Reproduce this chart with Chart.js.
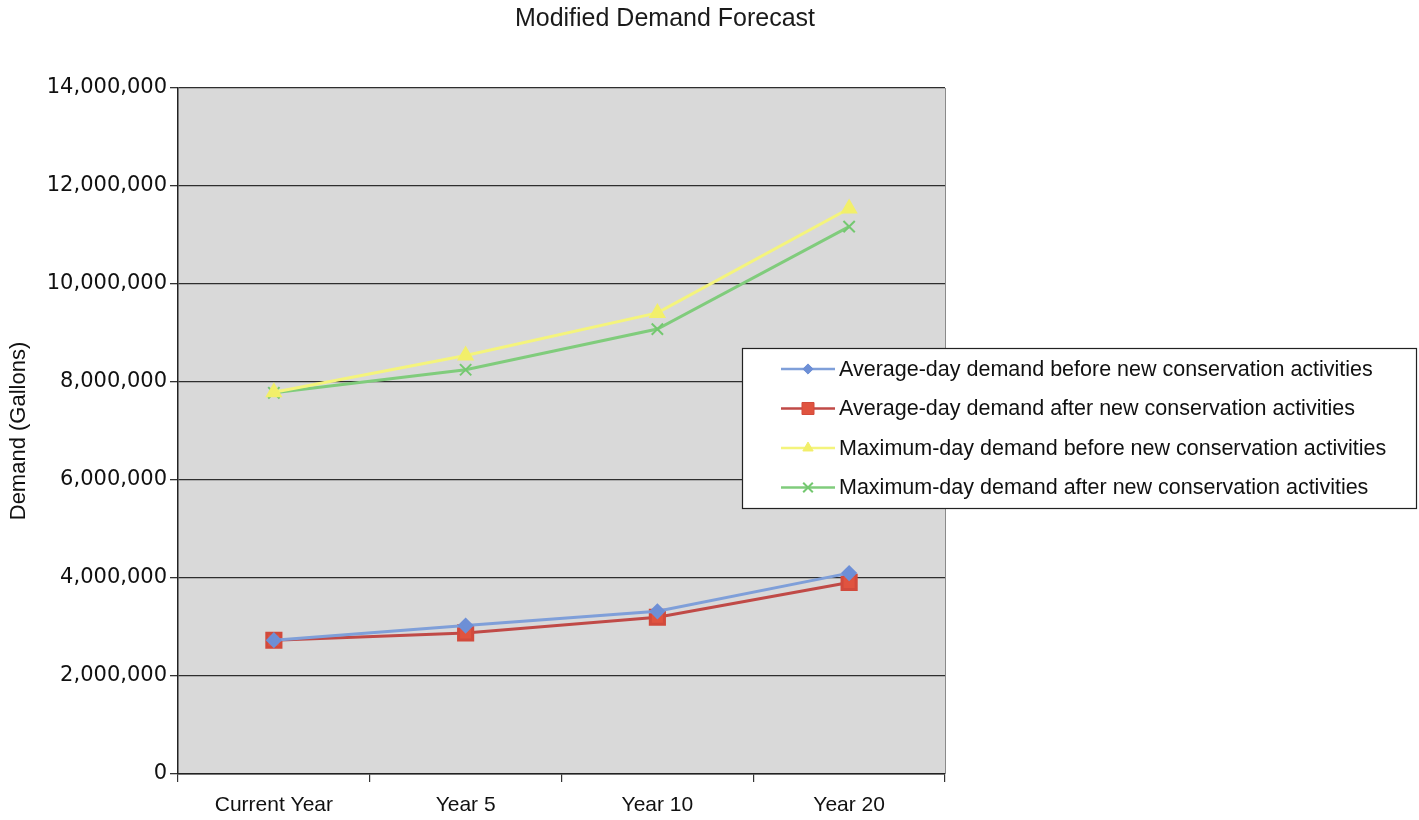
<!DOCTYPE html>
<html>
<head>
<meta charset="utf-8">
<script src="https://cdn.jsdelivr.net/npm/chart.js@4/dist/chart.umd.min.js"></script>
<style>
  html, body { margin: 0; padding: 0; background: #fff; }
  #wrap { position: relative; width: 1419px; height: 820px; }
</style>
</head>
<body>
<div id="wrap"><canvas id="chart" width="1419" height="820"></canvas></div>
<script>
const TITLE = "Modified Demand Forecast";
const Y_TITLE = "Demand (Gallons)";
const CATEGORIES = ["Current Year", "Year 5", "Year 10", "Year 20"];

const AVG_BEFORE = [2730000, 3030000, 3320000, 4100000];
const AVG_AFTER = [2730000, 2880000, 3200000, 3910000];
const MAX_BEFORE = [7790000, 8540000, 9410000, 11540000];
const MAX_AFTER = [7780000, 8250000, 9080000, 11170000];

const SERIES_LABELS = [
  "Average-day demand before new conservation activities",
  "Average-day demand after new conservation activities",
  "Maximum-day demand before new conservation activities",
  "Maximum-day demand after new conservation activities"
];

const FONT = "'Liberation Sans', Arial, sans-serif";

// plot background, right border, title and the legend box over the plot
const decor = {
  id: "decor",
  beforeDraw(chart) {
    const { ctx, chartArea: a } = chart;
    ctx.save();
    ctx.fillStyle = "#d9d9d9";
    ctx.fillRect(a.left, a.top, a.right - a.left, a.bottom - a.top);
    ctx.restore();
  },
  afterDraw(chart) {
    const { ctx, chartArea: a } = chart;
    ctx.save();
    ctx.strokeStyle = "#8a8a8a";
    ctx.lineWidth = 1;
    ctx.beginPath();
    ctx.moveTo(a.right + 0.5, a.top);
    ctx.lineTo(a.right + 0.5, a.bottom);
    ctx.stroke();

    ctx.fillStyle = "#1a1a1a";
    ctx.font = "25px " + FONT;
    ctx.textAlign = "center";
    ctx.textBaseline = "middle";
    ctx.fillText(TITLE, 665, 19);

    // legend
    const bx = 742, by = 348, bw = 674, bh = 160;
    ctx.fillStyle = "#ffffff";
    ctx.fillRect(bx, by, bw, bh);
    ctx.strokeStyle = "#222";
    ctx.lineWidth = 1.2;
    ctx.strokeRect(bx + 0.5, by + 0.5, bw, bh);
    ctx.font = "21.5px " + FONT;
    ctx.textAlign = "left";
    chart.data.datasets.forEach((ds, i) => {
      const y = by + 21 + i * 39.5;
      ctx.strokeStyle = ds.borderColor;
      ctx.lineWidth = 2.5;
      ctx.beginPath();
      ctx.moveTo(781, y);
      ctx.lineTo(835, y);
      ctx.stroke();
      ctx.fillStyle = ds.pointBackgroundColor;
      ctx.strokeStyle = ds.pointBorderColor;
      ctx.lineWidth = ds.pointBorderWidth || 1;
      Chart.helpers.drawPoint(ctx, {
        pointStyle: ds.pointStyle,
        radius: ds.pointRadius * 0.85,
        borderWidth: ds.pointBorderWidth || 1,
        rotation: 0
      }, 808, y);
      ctx.fillStyle = "#111";
      ctx.fillText(ds.label, 839, y + 1);
    });
    ctx.restore();
  }
};

new Chart(document.getElementById("chart"), {
  type: "line",
  data: {
    labels: CATEGORIES,
    datasets: [
      {
        label: SERIES_LABELS[0],
        data: AVG_BEFORE,
        borderColor: "#7f9fd9",
        borderWidth: 3,
        pointStyle: "rectRot",
        pointRadius: 6,
        pointBackgroundColor: "#6d8fd6",
        pointBorderColor: "#6d8fd6"
      },
      {
        label: SERIES_LABELS[1],
        data: AVG_AFTER,
        borderColor: "#c04a47",
        borderWidth: 3,
        pointStyle: "rect",
        pointRadius: 10,
        pointBackgroundColor: "#e0533f",
        pointBorderColor: "#d24a3c"
      },
      {
        label: SERIES_LABELS[2],
        data: MAX_BEFORE,
        borderColor: "#f4f47c",
        borderWidth: 3,
        pointStyle: "triangle",
        pointRadius: 7,
        pointBackgroundColor: "#f2ef6a",
        pointBorderColor: "#f2ef6a"
      },
      {
        label: SERIES_LABELS[3],
        data: MAX_AFTER,
        borderColor: "#80cc7c",
        borderWidth: 3,
        pointStyle: "crossRot",
        pointRadius: 8,
        pointBorderWidth: 2,
        pointBackgroundColor: "#74c870",
        pointBorderColor: "#74c870"
      }
    ]
  },
  options: {
    responsive: false,
    animation: false,
    layout: { padding: { top: 88, right: 474, bottom: 0, left: 0 } },
    plugins: {
      legend: { display: false },
      title: { display: false },
      tooltip: { enabled: false }
    },
    scales: {
      x: {
        offset: true,
        afterFit(scale) { scale.height = 46; },
        grid: {
          offset: true,
          drawOnChartArea: false,
          drawTicks: true,
          tickLength: 8,
          tickColor: "#333",
          lineWidth: 1.2
        },
        border: { color: "#222", width: 1.5 },
        ticks: {
          color: "#111",
          font: { family: FONT, size: 21 },
          padding: 11,
          maxRotation: 0
        }
      },
      y: {
        min: 0,
        max: 14000000,
        afterFit(scale) { scale.width = 178; },
        grid: {
          color: "#2e2e2e",
          lineWidth: 1.3,
          drawTicks: true,
          tickLength: 8,
          tickColor: "#333"
        },
        border: { color: "#222", width: 1.5 },
        ticks: {
          stepSize: 2000000,
          color: "#111",
          padding: 3,
          font: { family: "'DejaVu Sans', sans-serif", size: 21 },
          callback: (v) => v.toLocaleString("en-US")
        },
        title: {
          display: true,
          text: Y_TITLE,
          color: "#111",
          font: { family: FONT, size: 22 },
          padding: { top: 6, bottom: 0 }
        }
      }
    }
  },
  plugins: [decor]
});
</script>
</body>
</html>
